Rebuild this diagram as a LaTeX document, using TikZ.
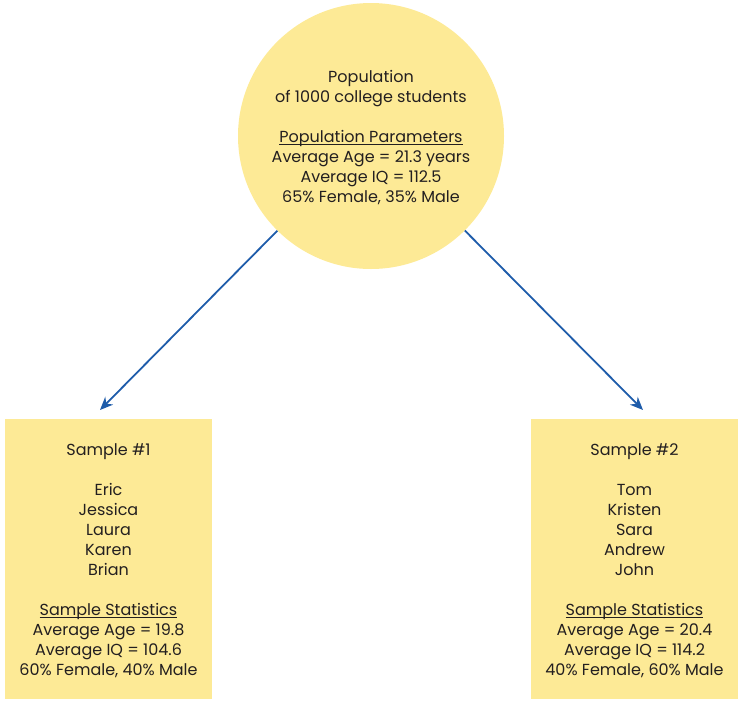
\documentclass[tikz,border=0pt]{standalone}
\usepackage{fontspec}
\setmainfont{Poppins}
\usetikzlibrary{arrows.meta}
\definecolor{popfill}{RGB}{253,234,150}
\definecolor{arrowblue}{RGB}{30,92,170}
\definecolor{textdark}{RGB}{35,31,32}
\newcommand{\ulin}[1]{\underline{\smash{#1}\vphantom{x}}}
\tikzset{
  popcircle/.style={circle, fill=popfill, minimum size=266pt, inner sep=0pt, text=textdark, align=center, font=\fontsize{16}{20}\selectfont},
  samplebox/.style={rectangle, fill=popfill, minimum width=207pt, minimum height=280pt, inner sep=0pt, text=textdark, align=center, font=\fontsize{16}{20}\selectfont},
  conn/.style={draw=arrowblue, line width=1.8pt, -{Stealth[length=13pt,width=11pt,inset=4pt]}}
}
\begin{document}
\begin{tikzpicture}[x=1pt,y=-1pt]
\useasboundingbox (0,0) rectangle (745,705);
\node[popcircle] (pop) at (371,136) {};
\node[text=textdark, align=center, font=\fontsize{16}{20}\selectfont] (poptext) at (371,138) {Population\\ of 1000 college students\\[20pt] \ulin{Population Parameters}\\ Average Age = 21.3 years\\ Average IQ = 112.5\\ 65\% Female, 35\% Male};
\node[samplebox] (s1) at (108.5,559) {};
\node[text=textdark, align=center, font=\fontsize{16}{20}\selectfont] (s1text) at (108.5,561) {Sample \#1\\[20pt] Eric\\ Jessica\\ Laura\\ Karen\\ Brian\\[20pt] \ulin{Sample Statistics}\\ Average Age = 19.8\\ Average IQ = 104.6\\ 60\% Female, 40\% Male};
\node[samplebox] (s2) at (634.5,559) {};
\node[text=textdark, align=center, font=\fontsize{16}{20}\selectfont] (s2text) at (634.5,561) {Sample \#2\\[20pt] Tom\\ Kristen\\ Sara\\ Andrew\\ John\\[20pt] \ulin{Sample Statistics}\\ Average Age = 20.4\\ Average IQ = 114.2\\ 40\% Female, 60\% Male};
\coordinate (t1) at (100,410);
\coordinate (t2) at (643,410);
\draw[conn] (pop) -- (t1);
\draw[conn] (pop) -- (t2);
\end{tikzpicture}
\end{document}
